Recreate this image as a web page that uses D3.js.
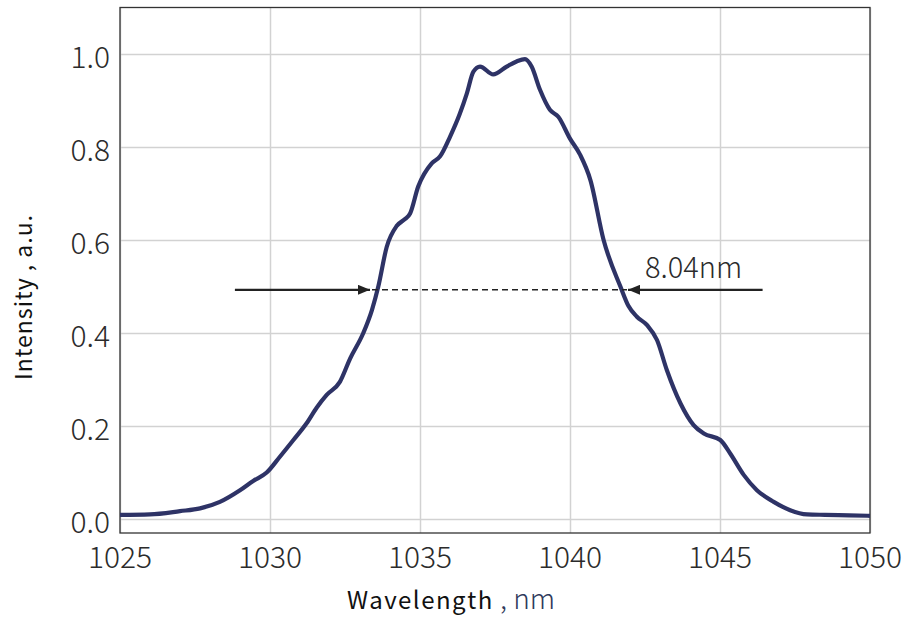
<!DOCTYPE html>
<html>
<head>
<meta charset="utf-8">
<script src="https://cdn.jsdelivr.net/npm/d3@7"></script>
<style>
  html, body { margin: 0; padding: 0; background: #fff; }
  svg { display: block; font-family: "Noto Sans CJK SC", "Noto Sans", sans-serif; }
</style>
</head>
<body>
<div id="root"></div>
<script>
const root = document.getElementById('root');

// Spectrum
const wavelength = [1025, 1026, 1027, 1027.67, 1028.33, 1029, 1029.44, 1029.89, 1030.33, 1030.78,
    1031.22, 1031.56, 1031.89, 1032.33, 1032.67, 1033.11, 1033.4, 1033.61, 1033.89, 1034.22,
    1034.5, 1034.67, 1034.94, 1035.39, 1035.67, 1036, 1036.33, 1036.56, 1036.78, 1037,
    1037.44, 1037.89, 1038.22, 1038.5, 1038.72, 1039, 1039.33, 1039.61, 1040, 1040.34,
    1040.68, 1041.12, 1041.68, 1041.95, 1042.23, 1042.57, 1042.9, 1043.23, 1043.68, 1044.12,
    1044.46, 1045.01, 1045.34, 1045.79, 1046.23, 1046.79, 1047.34, 1047.9, 1048.5, 1049.3, 1050];
const intensity = [0.009, 0.01, 0.017, 0.023, 0.037, 0.062, 0.082, 0.10, 0.134, 0.17,
    0.206, 0.24, 0.267, 0.295, 0.345, 0.40, 0.45, 0.50, 0.585, 0.63,
    0.645, 0.657, 0.715, 0.765, 0.78, 0.822, 0.872, 0.915, 0.962, 0.973,
    0.956, 0.973, 0.984, 0.989, 0.973, 0.923, 0.88, 0.865, 0.818, 0.783,
    0.729, 0.60, 0.50, 0.458, 0.435, 0.417, 0.385, 0.32, 0.249, 0.202,
    0.184, 0.17, 0.141, 0.095, 0.062, 0.037, 0.019, 0.01, 0.009, 0.008, 0.007];

const xTicks = [1025, 1030, 1035, 1040, 1045, 1050];
const yTicks = [0.0, 0.2, 0.4, 0.6, 0.8, 1.0];

// FWHM marker
const fwhmLevel = 0.493;
const fwhmLeft = 1033.4;
const fwhmRight = 1041.9;
const arrowLeftTail = 1028.83;
const arrowRightTail = 1046.42;
const fwhmLabel = '8.04nm';

const width = 917;
const height = 621;
const margin = { top: 7.5, right: 47, bottom: 88, left: 120 };

const svg = d3.select(root)
    .append('svg')
    .attr('width', width)
    .attr('height', height);

const x = d3.scaleLinear()
    .domain([1025, 1050])
    .range([margin.left, width - margin.right]);
const y = d3.scaleLinear()
    .domain([-0.03, 1.1])
    .range([height - margin.bottom, margin.top]);

// grid
svg.append('g')
    .attr('transform', `translate(0,${height - margin.bottom})`)
    .call(d3.axisBottom(x).tickValues(xTicks).tickSize(-(height - margin.bottom - margin.top)).tickFormat(''))
    .call(g => g.select('.domain').remove())
    .call(g => g.selectAll('line').attr('stroke', '#d2d2d2').attr('stroke-width', 1.5));
svg.append('g')
    .attr('transform', `translate(${margin.left},0)`)
    .call(d3.axisLeft(y).tickValues(yTicks).tickSize(-(width - margin.left - margin.right)).tickFormat(''))
    .call(g => g.select('.domain').remove())
    .call(g => g.selectAll('line').attr('stroke', '#d2d2d2').attr('stroke-width', 1.5));

// frame
svg.append('rect')
    .attr('x', margin.left)
    .attr('y', margin.top)
    .attr('width', width - margin.left - margin.right)
    .attr('height', height - margin.top - margin.bottom)
    .attr('fill', 'none')
    .attr('stroke', '#333')
    .attr('stroke-width', 1.3);

// tick labels
svg.append('g')
    .selectAll('text')
    .data(xTicks)
    .join('text')
    .attr('x', d => x(d))
    .attr('y', height - margin.bottom + 35)
    .attr('text-anchor', 'middle')
    .attr('font-size', 30)
    .attr('font-weight', 300)
    .attr('fill', '#2b2b2b')
    .text(d => d);
svg.append('g')
    .selectAll('text')
    .data(yTicks)
    .join('text')
    .attr('x', margin.left - 10)
    .attr('y', d => y(d) + 14)
    .attr('text-anchor', 'end')
    .attr('font-size', 30)
    .attr('font-weight', 300)
    .attr('fill', '#2b2b2b')
    .text(d => d3.format('.1f')(d));

// axis titles
const xTitle = svg.append('text')
    .attr('x', 347)
    .attr('y', 609)
    .attr('font-size', 24);
xTitle.append('tspan').attr('fill', '#111').attr('letter-spacing', 1.5).text('Wavelength');
xTitle.append('tspan').attr('fill', '#2f3a5c').attr('font-size', 28).attr('font-weight', 300).text(' , nm');

svg.append('text')
    .attr('transform', `translate(32,380)rotate(-90)`)
    .attr('font-size', 23)
    .attr('letter-spacing', 1)
    .attr('fill', '#111')
    .text('Intensity , a.u.');

// spectrum
const line = d3.line()
    .x((d, i) => x(wavelength[i]))
    .y(d => y(d))
    .curve(d3.curveMonotoneX);
svg.append('path')
    .datum(intensity)
    .attr('fill', 'none')
    .attr('stroke', '#2e3366')
    .attr('stroke-width', 4.2)
    .attr('stroke-linejoin', 'round')
    .attr('d', line);

// FWHM annotation
svg.append('defs').append('marker')
    .attr('id', 'head')
    .attr('viewBox', '0 0 12 10')
    .attr('refX', 12)
    .attr('refY', 5)
    .attr('markerWidth', 12)
    .attr('markerHeight', 10)
    .attr('markerUnits', 'userSpaceOnUse')
    .attr('orient', 'auto')
    .append('path')
    .attr('d', 'M0,0L12,5L0,10Z')
    .attr('fill', '#222');

svg.append('line')
    .attr('x1', x(fwhmLeft)).attr('x2', x(fwhmRight))
    .attr('y1', y(fwhmLevel)).attr('y2', y(fwhmLevel))
    .attr('stroke', '#222')
    .attr('stroke-width', 1.4)
    .attr('stroke-dasharray', '6,4');
svg.append('line')
    .attr('x1', x(arrowLeftTail)).attr('x2', x(fwhmLeft) - 2)
    .attr('y1', y(fwhmLevel)).attr('y2', y(fwhmLevel))
    .attr('stroke', '#222')
    .attr('stroke-width', 2.2)
    .attr('marker-end', 'url(#head)');
svg.append('line')
    .attr('x1', x(arrowRightTail)).attr('x2', x(fwhmRight) + 1)
    .attr('y1', y(fwhmLevel)).attr('y2', y(fwhmLevel))
    .attr('stroke', '#222')
    .attr('stroke-width', 2.2)
    .attr('marker-end', 'url(#head)');
svg.append('text')
    .attr('x', 645)
    .attr('y', 278)
    .attr('font-size', 29)
    .attr('font-weight', 300)
    .attr('fill', '#2b2b2b')
    .text(fwhmLabel);
</script>
</body>
</html>
